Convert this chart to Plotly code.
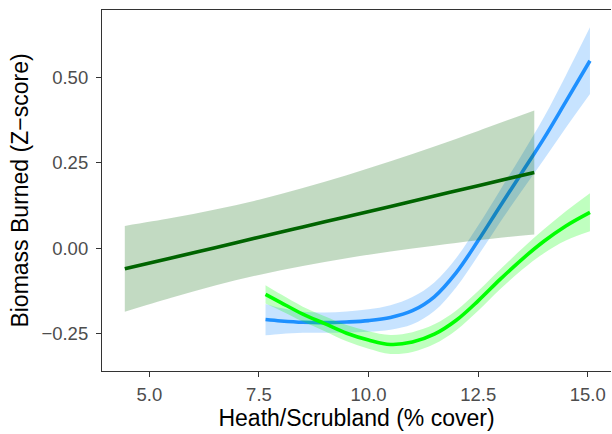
import plotly.graph_objects as go

# Dark green (linear fit)
dg_x = [4.44, 5.5, 6.5, 7.5, 8.5, 9.5, 10.5, 11.5, 12.5, 13.78]
dg_y = [-0.061, -0.029, 0.001, 0.032, 0.062, 0.092, 0.122, 0.153, 0.183, 0.222]
dg_lo = [-0.187, -0.146, -0.110, -0.079, -0.053, -0.030, -0.010, 0.007, 0.023, 0.040]
dg_hi = [0.065, 0.088, 0.113, 0.142, 0.176, 0.214, 0.255, 0.298, 0.344, 0.404]

# Blue (smooth)
bl_x = [7.65, 8.0, 8.5, 9.0, 9.5, 10.0, 10.5, 11.0, 11.5, 12.0, 12.5, 13.0, 13.5, 14.0, 14.5, 15.05]
bl_y = [-0.210, -0.214, -0.218, -0.219, -0.217, -0.213, -0.204, -0.184, -0.143, -0.072, 0.022, 0.123, 0.222, 0.322, 0.430, 0.550]
bl_lo = [-0.256, -0.252, -0.249, -0.249, -0.248, -0.246, -0.240, -0.224, -0.185, -0.115, -0.022, 0.076, 0.169, 0.260, 0.353, 0.452]
bl_hi = [-0.164, -0.176, -0.187, -0.189, -0.186, -0.180, -0.168, -0.144, -0.101, -0.029, 0.066, 0.170, 0.275, 0.384, 0.507, 0.648]

# Bright green (smooth)
gr_x = [7.65, 8.0, 8.5, 9.0, 9.5, 10.0, 10.5, 11.0, 11.5, 12.0, 12.5, 13.0, 13.5, 14.0, 14.5, 15.05]
gr_y = [-0.136, -0.160, -0.194, -0.222, -0.250, -0.270, -0.283, -0.276, -0.253, -0.212, -0.155, -0.092, -0.033, 0.020, 0.065, 0.105]
gr_lo = [-0.163, -0.184, -0.216, -0.244, -0.274, -0.296, -0.311, -0.305, -0.282, -0.241, -0.184, -0.121, -0.064, -0.015, 0.022, 0.049]
gr_hi = [-0.109, -0.136, -0.172, -0.200, -0.226, -0.244, -0.255, -0.247, -0.224, -0.183, -0.126, -0.063, -0.002, 0.055, 0.108, 0.161]

x_ticks = [5.0, 7.5, 10.0, 12.5, 15.0]
y_ticks = [-0.25, 0.0, 0.25, 0.5]

fig = go.Figure()

def add_smooth(x, y, lo, hi, color, fill, shape):
    fig.add_trace(go.Scatter(
        x=x, y=lo, mode="lines", line=dict(width=0, shape=shape),
        hoverinfo="skip", showlegend=False))
    fig.add_trace(go.Scatter(
        x=x, y=hi, mode="lines", fill="tonexty", fillcolor=fill,
        line=dict(width=0, shape=shape), hoverinfo="skip", showlegend=False))
    fig.add_trace(go.Scatter(
        x=x, y=y, mode="lines", line=dict(color=color, width=3.6, shape=shape),
        showlegend=False))

add_smooth(bl_x, bl_y, bl_lo, bl_hi, "#1E90FF", "rgba(30,144,255,0.25)", "spline")
add_smooth(gr_x, gr_y, gr_lo, gr_hi, "#00FF00", "rgba(0,255,0,0.25)", "spline")
add_smooth(dg_x, dg_y, dg_lo, dg_hi, "#006400", "rgba(0,100,0,0.24)", "spline")

font_family = "Liberation Sans, Arial, Helvetica, sans-serif"

fig.update_layout(
    width=612, height=434,
    margin=dict(l=102, r=1, t=10, b=63),
    paper_bgcolor="white", plot_bgcolor="white",
    font=dict(family=font_family, color="black"),
    showlegend=False,
)
fig.update_xaxes(
    range=[3.92, 15.53], tickvals=x_ticks, tickformat=".1f",
    showgrid=False, zeroline=False,
    showline=True, linecolor="#333333", linewidth=1.2, mirror=True,
    ticks="outside", ticklen=5, tickwidth=1.1, tickcolor="#333333",
    tickfont=dict(size=18.5, color="#4d4d4d"), ticklabelstandoff=2,
    title=dict(text="Heath/Scrubland (% cover)", font=dict(size=23, color="black"), standoff=4),
)
fig.update_yaxes(
    range=[-0.361, 0.699], tickvals=y_ticks, tickformat=".2f",
    showgrid=False, zeroline=False,
    showline=True, linecolor="#333333", linewidth=1.2, mirror=False,
    ticks="outside", ticklen=5, tickwidth=1.1, tickcolor="#333333",
    tickfont=dict(size=18.5, color="#4d4d4d"), ticklabelstandoff=4,
    title=dict(text="Biomass Burned (Z\u2212score)", font=dict(size=23, color="black"), standoff=6),
)

fig.write_html("out.html")
